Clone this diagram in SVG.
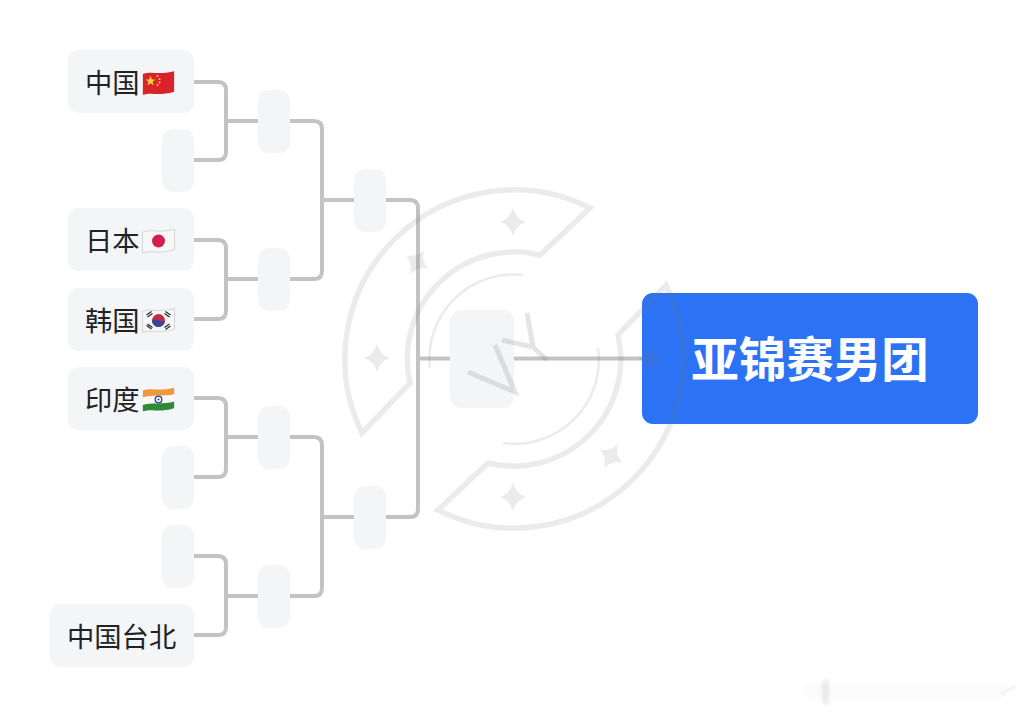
<svg xmlns="http://www.w3.org/2000/svg" xmlns:xlink="http://www.w3.org/1999/xlink" width="1028" height="718" viewBox="0 0 1028 718">
<style>
.n{fill:#f4f5f7}
.t{font-family:"Noto Sans CJK SC","Noto Sans",sans-serif;font-size:27.300px;fill:#202226}
.c{fill:none;stroke:#c3c3c3;stroke-width:4}
.wl{fill:none;stroke:#787878;stroke-opacity:.15;stroke-width:5.500;stroke-linejoin:miter}
.wt{fill:none;stroke:#787878;stroke-opacity:.15;stroke-width:2.500}
.ws{fill:#787878;fill-opacity:.15}
.wv{fill:none;stroke:#787878;stroke-opacity:.2;stroke-width:5}
</style>
<defs>
<path id="fs" d="M0,3C7,0.500 13,2.500 20,2C25,1.700 29,1 32,0L32,20.500C28,22 24,22.500 20,23C13,23.500 7,21.500 0,24Z"/>
<clipPath id="fc"><use href="#fs"/></clipPath>
<path id="st" d="M0,-14Q3,-3 13,0Q3,3 0,14Q-3,3 -13,0Q-3,-3 0,-14Z"/>
<filter id="b"><feGaussianBlur stdDeviation="1.500"/></filter>
</defs>
<rect width="1028" height="718" fill="#fff"/>
<g id="connectors">
<path class="c" d="M194,82H218Q226,82 226,90V152Q226,160 218,160H194M226,121H258"/>
<path class="c" d="M194,240H218Q226,240 226,248V311Q226,319 218,319H194M226,279H258"/>
<path class="c" d="M194,398H218Q226,398 226,406V469Q226,477 218,477H194M226,437H258"/>
<path class="c" d="M194,556H218Q226,556 226,564V627Q226,635 218,635H194M226,596H258"/>
<path class="c" d="M290,121H314Q322,121 322,129V271Q322,279 314,279H290M322,200H354"/>
<path class="c" d="M290,437H314Q322,437 322,445V588Q322,596 314,596H290M322,517H354"/>
<path class="c" d="M386,200H410Q418,200 418,208V509Q418,517 410,517H386M418,358.500H450"/>
<path class="c" d="M514,358.500H642"/>
</g>
<g id="node-china"><rect class="n" x="68" y="50" width="126" height="63" rx="11"/><text class="t" x="85" y="93">中国</text>
<g transform="translate(142.500,71)" clip-path="url(#fc)"><rect width="32" height="24" fill="#d8232a"/><path d="M8,4.500L9.300,8.500 13,8.500 10,10.800 11.200,14.500 8,12.200 4.800,14.500 6,10.800 3,8.500 6.700,8.500Z" fill="#f8d13a"/><circle cx="15" cy="5" r="1" fill="#f8d13a"/><circle cx="17" cy="8" r="1" fill="#f8d13a"/><circle cx="17" cy="11.500" r="1" fill="#f8d13a"/><circle cx="15" cy="14" r="1" fill="#f8d13a"/></g></g>
<g id="node-r1-2"><rect class="n" x="162" y="129" width="32" height="63" rx="11"/></g>
<g id="node-japan"><rect class="n" x="68" y="208" width="126" height="63" rx="11"/><text class="t" x="85" y="251">日本</text>
<g transform="translate(142.500,229)"><use href="#fs" fill="#f7f7f7" stroke="#d5d5d5" stroke-width="1"/><circle cx="16" cy="12" r="6.500" fill="#d01f4d"/></g></g>
<g id="node-korea"><rect class="n" x="68" y="288" width="126" height="63" rx="11"/><text class="t" x="85" y="331">韩国</text>
<g transform="translate(142.500,308.500)"><use href="#fs" fill="#f7f7f7" stroke="#d5d5d5" stroke-width="1"/><circle cx="16" cy="12" r="6.500" fill="#c8284a"/><path d="M9.500,12a6.500,6.500 0 0 0 13,0q-3.200,2 -6.500,0t-6.500,0Z" fill="#2c4a96"/><path d="M4,6.500L9,3M5,8.500L10,5M23,3L28,6.500M22,5L27,8.500M4,17L9,20.500M5,15.500L10,19M23,21L28,17.500M22,19L27,15.500" stroke="#2b2b33" stroke-width="1.300" fill="none"/></g></g>
<g id="node-india"><rect class="n" x="68" y="367" width="126" height="63" rx="11"/><text class="t" x="85" y="410">印度</text>
<g transform="translate(142.500,387.500)" clip-path="url(#fc)"><rect width="32" height="25" fill="#f7f7f7"/><path d="M0,-1H32V6.800C21,9 9,7 0,10Z" fill="#f0983e"/><path d="M0,17.500C8,15 21,17 32,14V25H0Z" fill="#2f8a35"/><circle cx="16" cy="12" r="3.300" fill="none" stroke="#26408f" stroke-width="1.300"/><circle cx="16" cy="12" r="1" fill="#26408f"/></g></g>
<g id="node-r1-6"><rect class="n" x="162" y="446" width="32" height="63" rx="11"/></g>
<g id="node-r1-7"><rect class="n" x="162" y="525" width="32" height="63" rx="11"/></g>
<g id="node-taipei"><rect class="n" x="50" y="604" width="144" height="63" rx="11"/><text class="t" x="67" y="647">中国台北</text></g>
<g id="node-r2-1"><rect class="n" x="258" y="90" width="32" height="63" rx="11"/></g>
<g id="node-r2-2"><rect class="n" x="258" y="248" width="32" height="63" rx="11"/></g>
<g id="node-r2-3"><rect class="n" x="258" y="406" width="32" height="63" rx="11"/></g>
<g id="node-r2-4"><rect class="n" x="258" y="565" width="32" height="63" rx="11"/></g>
<g id="node-r3-1"><rect class="n" x="354" y="169" width="32" height="63" rx="11"/></g>
<g id="node-r3-2"><rect class="n" x="354" y="486" width="32" height="63" rx="11"/></g>
<g id="node-final"><rect class="n" x="450" y="310" width="64" height="98" rx="11"/></g>
<g id="node-champion"><rect x="642" y="293" width="336" height="131" rx="11" fill="#2b72f4"/><text x="810" y="377" text-anchor="middle" font-family="'Noto Sans CJK SC','Noto Sans',sans-serif" font-size="47.500" font-weight="700" fill="#fff">亚锦赛男团</text></g>
<g id="watermark">
<path class="wl" d="M362,433A169,169 0 0 1 590,208L540,255A107,107 0 0 0 410,383Z"/>
<path class="wl" d="M666,285A169,169 0 0 1 438,510L488,463A107,107 0 0 0 618,335Z"/>
<path class="wt" d="M523,275A84,84 0 0 0 430,368"/>
<path class="wt" d="M503,443A84,84 0 0 0 598,348"/>
<use class="ws" href="#st" x="513" y="222"/>
<use class="ws" href="#st" x="377" y="358"/>
<use class="ws" href="#st" x="513" y="497"/>
<use class="ws" href="#st" x="651" y="359"/>
<use class="ws" href="#st" transform="translate(417,262) rotate(30)"/>
<use class="ws" href="#st" transform="translate(611,456) rotate(30)"/>
<path class="wv" d="M468,372L515,392L495,345"/>
<path class="wv" d="M502,340L533,347L547,360M527,313L533,347"/>
</g>
<g id="corner-smudge" filter="url(#b)" fill="#000" fill-opacity=".015">
<rect x="805" y="684" width="200" height="14"/>
<rect x="822" y="680" width="7" height="24" fill-opacity=".07"/>
<path d="M1016,686L1003,693" stroke="#000" stroke-opacity=".08" stroke-width="2"/>
</g>
</svg>
